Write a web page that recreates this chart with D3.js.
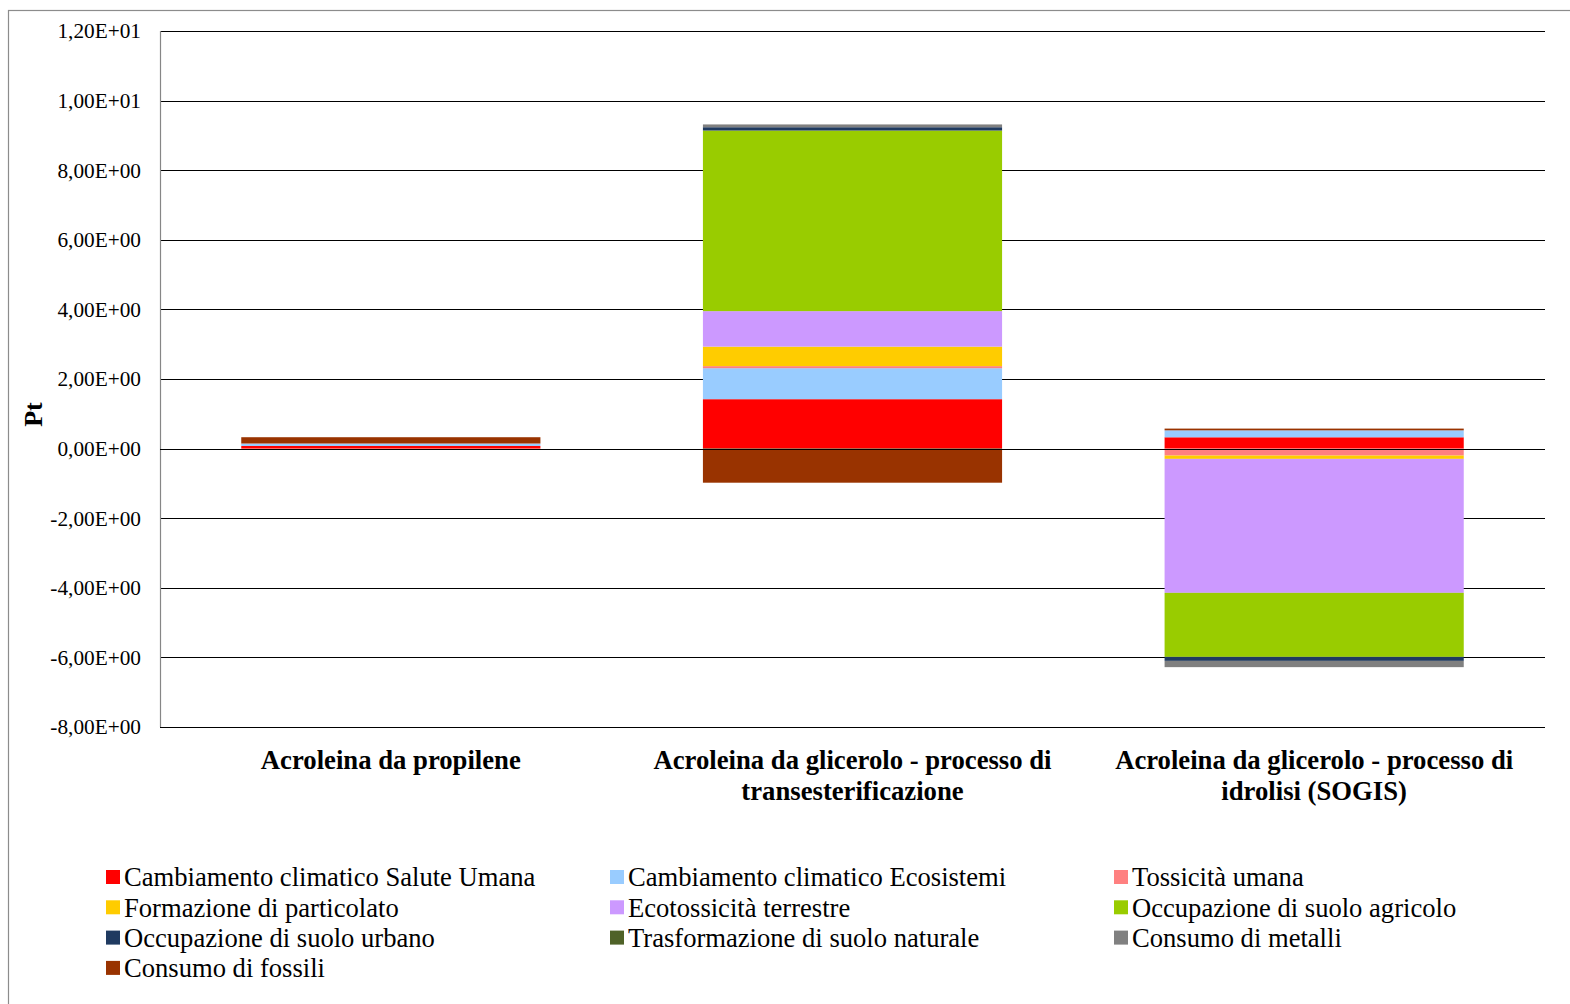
<!DOCTYPE html>
<html>
<head>
<meta charset="utf-8">
<script src="https://cdn.jsdelivr.net/npm/d3@7"></script>
<style>
  html, body { margin: 0; padding: 0; background: #fff; }
  svg { display: block; font-family: "Liberation Serif", "Times New Roman", serif; }
</style>
</head>
<body>
<svg id="chart" width="1570" height="1004"></svg>
<script>
// Process categories (two-line labels)
const categories = [
  ["Acroleina da propilene"],
  ["Acroleina da glicerolo - processo di", "transesterificazione"],
  ["Acroleina da glicerolo - processo di", "idrolisi (SOGIS)"]
];

// Impact categories (series), in stacking order
const seriesNames = [
  "Cambiamento climatico Salute Umana",
  "Cambiamento climatico Ecosistemi",
  "Tossicità umana",
  "Formazione di particolato",
  "Ecotossicità terrestre",
  "Occupazione di suolo agricolo",
  "Occupazione di suolo urbano",
  "Trasformazione di suolo naturale",
  "Consumo di metalli",
  "Consumo di fossili"
];
const seriesColors = [
  "#FF0000", "#99CCFF", "#FF8080", "#FFCC00", "#CC99FF",
  "#99CC00", "#1F3A60", "#4F6228", "#808080", "#993300"
];

// Single-score values (Pt) per process
const climaSalute      = [0.075, 1.42, 0.325];
const climaEcosistemi  = [0.067, 0.89, 0.20];
const tossicitaUmana   = [0.005, 0.06, -0.20];
const particolato      = [0.0, 0.56, -0.095];
const ecotossicita     = [0.0, 1.02, -3.85];
const suoloAgricolo    = [0.0, 5.19, -1.84];
const suoloUrbano      = [0.0, 0.095, -0.115];
const suoloNaturale    = [0.0, -0.04, 0.0];
const metalli          = [0.0, 0.08, -0.18];
const fossili          = [0.18, -0.94, 0.05];

const seriesValues = [climaSalute, climaEcosistemi, tossicitaUmana, particolato,
  ecotossicita, suoloAgricolo, suoloUrbano, suoloNaturale, metalli, fossili];

const yTicks = [-8, -6, -4, -2, 0, 2, 4, 6, 8, 10, 12];
const yTickLabels = ["-8,00E+00", "-6,00E+00", "-4,00E+00", "-2,00E+00", "0,00E+00",
  "2,00E+00", "4,00E+00", "6,00E+00", "8,00E+00", "1,00E+01", "1,20E+01"];

const svg = d3.select("#chart");

// Chart frame
svg.append("rect")
  .attr("x", 8.5).attr("y", 10.5)
  .attr("width", 1600).attr("height", 1100)
  .attr("fill", "#fff").attr("stroke", "#8c8c8c").attr("stroke-width", 1.2);

const plot = { left: 160, right: 1545, top: 31, bottom: 727 };

const y = d3.scaleLinear().domain([-8, 12]).range([plot.bottom, plot.top]);
const x = d3.scaleBand()
  .domain(d3.range(categories.length))
  .range([plot.left, plot.right])
  .paddingInner(0.352).paddingOuter(0.176);

// Horizontal gridlines
svg.append("g")
  .selectAll("line")
  .data(yTicks)
  .join("line")
  .attr("x1", plot.left).attr("x2", plot.right)
  .attr("y1", d => Math.round(y(d)) + 0.5).attr("y2", d => Math.round(y(d)) + 0.5)
  .attr("stroke", "#000").attr("stroke-width", 1);

// Vertical axis line
svg.append("line")
  .attr("x1", plot.left + 0.5).attr("x2", plot.left + 0.5)
  .attr("y1", plot.top).attr("y2", plot.bottom)
  .attr("stroke", "#868686").attr("stroke-width", 1.2);

// Stacked bars (positive and negative stacked separately)
const rows = categories.map((c, i) => {
  const r = {};
  seriesNames.forEach((s, j) => { r[s] = seriesValues[j][i]; });
  return r;
});
const stacked = d3.stack().keys(seriesNames).offset(d3.stackOffsetDiverging)(rows);

svg.append("g")
  .selectAll("g")
  .data(stacked)
  .join("g")
  .attr("fill", (d, j) => seriesColors[j])
  .selectAll("rect")
  .data(d => d.map((v, i) => ({ v, i })))
  .join("rect")
  .attr("x", d => x(d.i))
  .attr("width", x.bandwidth())
  .attr("y", d => y(Math.max(d.v[0], d.v[1])))
  .attr("height", d => Math.abs(y(d.v[0]) - y(d.v[1])));

// Zero line on top of bars
svg.append("line")
  .attr("x1", plot.left).attr("x2", plot.right)
  .attr("y1", Math.round(y(0)) + 0.5).attr("y2", Math.round(y(0)) + 0.5)
  .attr("stroke", "#000").attr("stroke-width", 1.2);

// Y tick labels
svg.append("g")
  .selectAll("text")
  .data(yTicks)
  .join("text")
  .attr("x", 141)
  .attr("y", d => y(d))
  .attr("dy", "0.35em")
  .attr("text-anchor", "end")
  .attr("font-size", 21.3)
  .text((d, i) => yTickLabels[i]);

// Y axis title
svg.append("text")
  .attr("transform", `translate(42, ${y(0) - 34}) rotate(-90)`)
  .attr("text-anchor", "middle")
  .attr("font-size", 26)
  .attr("font-weight", "bold")
  .text("Pt");

// Category labels
const catG = svg.append("g");
categories.forEach((lines, i) => {
  const t = catG.append("text")
    .attr("x", x(i) + x.bandwidth() / 2)
    .attr("y", 769)
    .attr("text-anchor", "middle")
    .attr("font-size", 26.7)
    .attr("font-weight", "bold");
  lines.forEach((l, k) => {
    t.append("tspan")
      .attr("x", x(i) + x.bandwidth() / 2)
      .attr("dy", k === 0 ? 0 : 31)
      .text(l);
  });
});

// Legend: three columns, filled row by row
const legendCols = [106, 610, 1114];
const legendRow0 = 877, legendRowStep = 30.3;
const leg = svg.append("g")
  .selectAll("g")
  .data(seriesNames)
  .join("g")
  .attr("transform", (d, i) =>
    `translate(${legendCols[i % 3]}, ${legendRow0 + Math.floor(i / 3) * legendRowStep})`);
leg.append("rect")
  .attr("x", 0).attr("y", -7)
  .attr("width", 14).attr("height", 14)
  .attr("fill", (d, i) => seriesColors[i]);
leg.append("text")
  .attr("x", 18)
  .attr("y", 0)
  .attr("dy", "0.35em")
  .attr("font-size", 26.6)
  .text(d => d);
</script>
</body>
</html>
